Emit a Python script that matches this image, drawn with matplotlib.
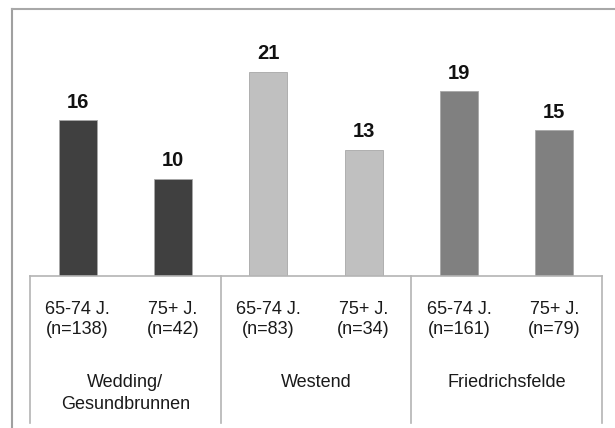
import matplotlib.pyplot as plt
from matplotlib.lines import Line2D

# Anteile je Bezirk und Altersgruppe
districts = ['Wedding/\nGesundbrunnen', 'Westend', 'Friedrichsfelde']
age_groups = ['65-74 J.', '75+ J.']
sample_sizes = [138, 42, 83, 34, 161, 79]
values = [16, 10, 21, 13, 19, 15]
district_colors = ['#404040', '#c0c0c0', '#808080']

plt.rcParams['font.family'] = ['Liberation Sans', 'DejaVu Sans']

fig = plt.figure(figsize=(6.15, 4.28), dpi=100)
W, H = 615, 428
AX_H = 214
ax = fig.add_axes([30 / W, 1 - 276 / H, 572 / W, AX_H / H])

x = list(range(len(values)))
colors = [district_colors[i // 2] for i in x]
bars = ax.bar(x, values, width=0.4, color=colors, edgecolor='#a8a8a8', linewidth=0.6)
for b, v in zip(bars, values):
    ax.annotate(str(v), (b.get_x() + b.get_width() / 2, v), xytext=(0, 6),
                textcoords='offset points', ha='center', va='bottom',
                fontsize=14.5, fontweight='bold', color='#111111')

ax.set_xlim(-0.5, len(values) - 0.5)
ax.set_ylim(0, 22)
ax.set_xticks([])
ax.set_yticks([])
for s in ['left', 'right', 'top']:
    ax.spines[s].set_visible(False)
ax.spines['bottom'].set_color('#b4b4b4')
ax.spines['bottom'].set_linewidth(1.2)

# Tabelle unter den Balken
trans = ax.get_xaxis_transform()
table_bottom = -147 / AX_H
for b in [-0.5, 1.5, 3.5, 5.5]:
    ax.plot([b, b], [0, table_bottom], transform=trans, color='#b4b4b4',
            lw=1.2, clip_on=False)
for i, n in enumerate(sample_sizes):
    ax.text(i, -43.5 / AX_H, f'{age_groups[i % 2]}\n(n={n})', transform=trans,
            ha='center', va='center', fontsize=13, color='#1a1a1a',
            linespacing=1.3)
for j, name in enumerate(districts):
    ax.text(2 * j + 0.5, -98 / AX_H, name, transform=trans, ha='center',
            va='top', fontsize=13, color='#1a1a1a', linespacing=1.35)

# Rahmen der Diagrammfläche
fig.add_artist(Line2D([12 / W, 12 / W], [0, 1 - 9 / H], color='#a0a0a0', lw=1.5))
fig.add_artist(Line2D([12 / W, 1], [1 - 9 / H, 1 - 9 / H], color='#a8a8a8', lw=1.5))

fig.savefig('out.png', dpi=100)
